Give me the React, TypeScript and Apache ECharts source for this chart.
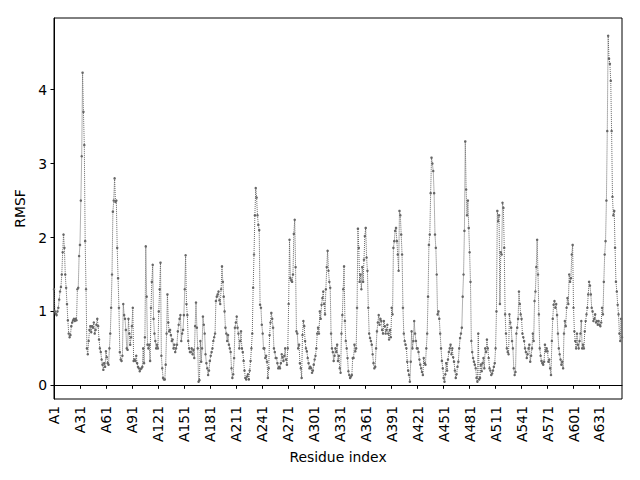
import React, { useEffect, useRef } from "react";
import * as echarts from "echarts";

// RMSF values per residue (residues A1..A657)
const rmsf0 = [
  1.3, 1.0, 0.97, 0.95, 1.0, 1.05, 1.16, 1.27, 1.33, 1.5,
  1.8, 2.04, 1.86, 1.5, 1.32, 1.1, 0.88, 0.7, 0.65, 0.68,
  0.8, 0.85, 0.88, 0.9, 0.87, 0.9, 0.88, 1.3, 1.32, 1.75,
  1.9, 2.5, 3.1, 4.23, 3.7, 3.25, 1.95, 1.3, 0.5, 0.42,
  0.6, 0.75, 0.8, 0.72, 0.8, 0.78, 0.85, 0.7, 0.75, 0.82,
  0.9, 0.8, 0.62, 0.5, 0.45, 0.35, 0.28, 0.21, 0.3, 0.25,
  0.46, 0.38, 0.3, 0.28, 0.5, 0.7, 1.05, 1.5, 2.35, 2.5,
  2.8, 2.48, 2.5, 1.86, 1.45, 1.05, 0.45, 0.35, 0.33, 0.4,
  1.1, 0.95, 0.9, 0.75, 0.5, 0.48, 0.9, 0.7, 0.55, 0.65,
  0.8, 1.05, 0.33, 0.35, 0.33, 0.4, 0.3, 0.25, 0.23, 0.19,
];
const rmsf1 = [
  0.22, 0.23, 0.25, 0.5, 0.3, 0.65, 1.88, 1.2, 0.55, 0.5,
  0.55, 0.33, 1.05, 1.4, 1.63, 0.9, 0.7, 0.6, 0.5, 0.55,
  0.5, 1.0, 1.3, 1.66, 0.4, 0.23, 0.1, 0.08, 0.08, 0.28,
  0.7, 1.23, 0.85, 0.73, 0.75, 0.68, 0.6, 0.62, 0.5, 0.55,
  0.45, 0.5, 0.55, 0.73, 0.82, 0.9, 0.95, 0.6, 0.7, 0.75,
  0.95, 1.3, 1.76, 1.1, 0.95, 0.6, 0.5, 0.45, 0.45, 0.5,
  0.42, 0.48, 0.37, 0.8, 1.12, 0.78, 0.5, 0.05, 0.07, 0.6,
  0.32, 0.5, 0.93, 0.82, 0.7, 0.42, 0.3, 0.23, 0.14, 0.2,
  0.33, 0.4, 0.45, 0.5, 0.6, 0.65, 0.7, 1.14, 1.2, 1.23,
  1.27, 1.15, 1.1, 1.3, 1.61, 1.4, 1.2, 1.0, 0.78, 0.7,
];
const rmsf2 = [
  0.6, 0.68, 0.55, 0.5, 0.45, 0.23, 0.1, 0.15, 0.37, 0.78,
  0.85, 0.93, 0.78, 0.7, 0.5, 0.6, 0.73, 0.5, 0.45, 0.33,
  0.2, 0.1, 0.08, 0.12, 0.15, 0.08, 0.2, 0.33, 0.5, 0.7,
  1.32, 1.77, 2.3, 2.67, 2.54, 2.3, 2.17, 2.1, 1.09, 1.05,
  0.82, 0.7, 0.5, 0.5, 0.37, 0.4, 0.32, 0.1, 0.23, 0.68,
  0.85, 0.98, 0.9, 0.78, 0.5, 0.45, 0.37, 0.37, 0.3, 0.23,
  0.25, 0.23, 0.3, 0.42, 0.38, 0.33, 0.4, 0.5, 0.35, 0.28,
  0.5, 1.1, 1.97, 1.45, 1.42, 1.4, 1.5, 2.05, 2.24, 1.6,
  0.73, 0.7, 0.5, 0.55, 0.3, 0.23, 0.1, 0.68, 0.87, 0.8,
  0.6, 0.5, 0.46, 0.37, 0.3, 0.23, 0.25, 0.23, 0.17, 0.2,
];
const rmsf3 = [
  0.28, 0.35, 0.4, 0.5, 0.7, 0.78, 0.7, 1.0, 0.9, 1.09,
  1.18, 1.27, 1.1, 0.96, 1.3, 1.6, 1.82, 1.55, 1.4, 1.32,
  0.7, 0.5, 0.45, 0.33, 0.4, 0.5, 0.45, 0.55, 0.33, 0.4,
  0.23, 0.17, 0.7, 0.95, 1.3, 1.61, 0.87, 0.6, 0.5, 0.37,
  0.19, 0.14, 0.1, 0.12, 0.14, 0.37, 0.37, 0.55, 0.46, 0.5,
  1.05, 2.12, 1.86, 1.4, 1.5, 1.3, 1.6, 1.4, 1.7, 2.02,
  2.13, 1.73, 1.55, 1.05, 0.7, 0.64, 0.6, 0.55, 0.42, 0.3,
  0.23, 0.25, 0.5, 0.73, 0.85, 0.95, 0.82, 0.9, 0.87, 0.75,
  0.7, 0.87, 0.8, 0.7, 0.75, 0.82, 0.7, 0.62, 0.75, 0.65,
  1.05, 0.96, 1.86, 1.95, 2.09, 2.13, 1.95, 1.77, 1.55, 2.36,
];
const rmsf4 = [
  2.3, 2.04, 1.77, 1.05, 0.7, 0.6, 0.55, 0.5, 0.32, 0.2,
  0.14, 0.05, 0.32, 0.73, 0.5, 0.6, 0.87, 0.7, 0.6, 0.5,
  0.5, 0.45, 0.35, 0.28, 0.23, 0.18, 0.14, 0.37, 0.3, 0.28,
  0.5, 0.7, 1.2, 1.9, 2.04, 2.6, 3.08, 3.0, 2.9, 2.6,
  2.04, 1.86, 1.5, 0.96, 1.0, 0.9, 0.7, 0.5, 0.33, 0.23,
  0.1, 0.05, 0.15, 0.3, 0.2, 0.35, 0.45, 0.5, 0.55, 0.42,
  0.5, 0.38, 0.32, 0.2, 0.1, 0.15, 0.25, 0.32, 0.5, 0.64,
  0.7, 0.78, 1.2, 1.5, 2.09, 3.3, 2.65, 2.3, 2.5, 2.13,
  1.8, 1.4, 0.6, 0.45, 0.37, 0.32, 0.28, 0.23, 0.1, 0.05,
  0.7, 0.08, 0.1, 0.28, 0.19, 0.3, 0.37, 0.23, 0.5, 0.45,
];
const rmsf5 = [
  0.62, 0.5, 0.37, 0.23, 0.2, 0.14, 0.16, 0.2, 0.25, 0.3,
  0.5, 1.0, 2.36, 2.22, 2.3, 1.1, 1.8, 1.77, 2.47, 2.4,
  1.86, 0.96, 0.7, 0.5, 0.45, 0.42, 0.96, 0.85, 0.78, 0.6,
  0.5, 0.23, 0.14, 0.18, 0.7, 0.78, 0.9, 1.27, 1.1, 0.96,
  0.9, 0.7, 0.65, 0.6, 0.5, 0.45, 0.37, 0.42, 0.5, 0.55,
  0.32, 0.4, 0.5, 0.7, 0.6, 1.14, 1.27, 1.6, 1.97, 1.5,
  0.96, 0.5, 0.4, 0.33, 0.3, 0.28, 0.32, 0.55, 0.46, 0.5,
  0.46, 0.32, 0.35, 0.23, 0.14, 0.6, 0.9, 1.09, 1.14, 1.05,
  1.1, 0.95, 0.7, 0.5, 0.42, 0.35, 0.28, 0.32, 0.23, 0.7,
  0.87, 0.8, 1.05, 1.18, 1.1, 1.5, 1.4, 1.45, 1.77, 1.9,
];
const rmsf6 = [
  1.05, 0.73, 0.6, 0.5, 0.7, 0.55, 0.5, 0.6, 0.7, 0.87,
  0.5, 0.55, 0.5, 0.73, 0.87, 0.96, 1.05, 1.23, 1.4, 1.35,
  1.23, 1.05, 1.0, 0.87, 0.9, 0.96, 0.85, 0.87, 0.82, 0.87,
  0.82, 0.8, 0.85, 1.05, 0.96, 1.4, 1.77, 1.95, 2.5, 3.44,
  4.73, 4.42, 4.35, 4.12, 3.44, 2.55, 2.3, 2.36, 1.86, 1.4,
  1.27, 1.09, 0.96, 0.7, 0.6, 0.9, 0.65,
];

const rmsf = [...rmsf0, ...rmsf1, ...rmsf2, ...rmsf3, ...rmsf4, ...rmsf5, ...rmsf6];
const categories = rmsf.map((_, i) => "A" + (i + 1));
const yTicks = [0, 1, 2, 3, 4];

const FONT = "DejaVu Sans";
const FS = 13.9;

export default function App() {
  const ref = useRef<HTMLDivElement>(null);
  useEffect(() => {
    document.body.style.margin = "0";
    const chart = echarts.init(ref.current!, null, { renderer: "svg" });
    chart.setOption({
      animation: false,
      backgroundColor: "#fff",
      grid: {
        left: 54,
        right: 18,
        top: 18,
        bottom: 81,
        show: true,
        borderColor: "#000",
        borderWidth: 1,
        backgroundColor: "transparent",
      },
      xAxis: {
        type: "category",
        data: categories,
        boundaryGap: false,
        axisLine: { lineStyle: { color: "#000", width: 1 } },
        axisTick: { interval: 29, length: 3.5, lineStyle: { color: "#000" } },
        axisLabel: {
          interval: 29,
          rotate: 90,
          color: "#000",
          fontSize: FS,
          fontFamily: FONT,
          margin: 7,
        },
        splitLine: { show: false },
        name: "Residue index",
        nameLocation: "middle",
        nameGap: 50,
        nameTextStyle: { color: "#000", fontSize: FS, fontFamily: FONT },
      },
      yAxis: {
        type: "value",
        min: -0.185,
        max: 4.97,
        axisLine: { show: true, lineStyle: { color: "#000", width: 1 } },
        axisTick: { show: true, length: 3.5, customValues: yTicks, lineStyle: { color: "#000" } },
        axisLabel: {
          customValues: yTicks,
          color: "#000",
          fontSize: FS,
          fontFamily: FONT,
          margin: 7,
        },
        splitLine: { show: false },
        name: "RMSF",
        nameLocation: "middle",
        nameGap: 26,
        nameTextStyle: { color: "#000", fontSize: FS, fontFamily: FONT },
      },
      series: [
        {
          type: "line",
          data: rmsf,
          symbol: "circle",
          symbolSize: 2.5,
          showSymbol: true,
          showAllSymbol: true,
          lineStyle: { type: "dotted", width: 1, color: "#666" },
          itemStyle: { color: "#666" },
        },
      ],
    });
    return () => chart.dispose();
  }, []);
  return <div ref={ref} style={{ width: 640, height: 480 }} />;
}
